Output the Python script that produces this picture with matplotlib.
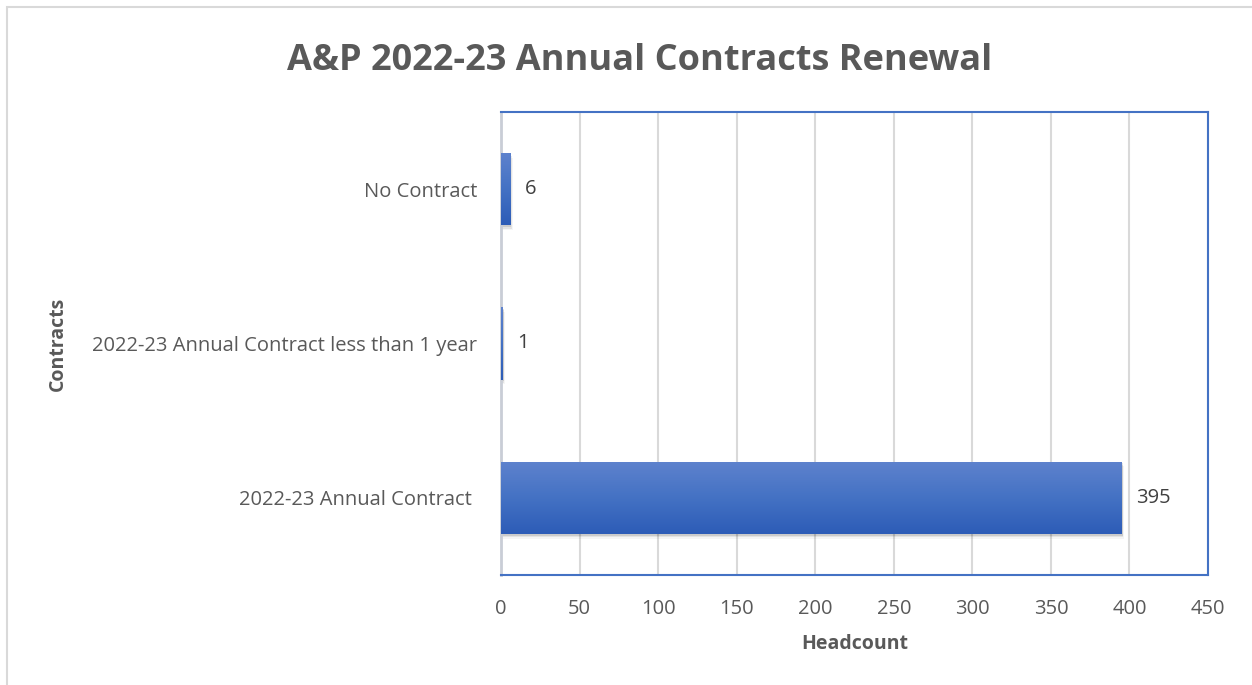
import numpy as np
import matplotlib.pyplot as plt
from matplotlib.patches import Rectangle

categories = ["2022-23 Annual Contract ", "2022-23 Annual Contract less than 1 year", "No Contract"]
headcount = [395, 1, 6]
x_ticks = [0, 50, 100, 150, 200, 250, 300, 350, 400, 450]

plt.rcParams['font.family'] = ['Open Sans', 'DejaVu Sans']
txt = '#595959'

fig = plt.figure(figsize=(12.52, 6.85), dpi=100)
# outer chart border
fig.patches.append(Rectangle((7 / 1252, -0.1), 1.2, (685 - 7) / 685 + 0.1,
                             transform=fig.transFigure, fill=False,
                             edgecolor='#d9d9d9', lw=1.5))
ax = fig.add_axes([501 / 1252, 110 / 685, 707 / 1252, 463 / 685])

y = np.arange(len(categories))
h = 0.47
bars = ax.barh(y, headcount, height=h, color='none', zorder=3)

# gradient fill + soft shadow
grad = np.linspace(0, 1, 100).reshape(-1, 1)
cmap = plt.matplotlib.colors.LinearSegmentedColormap.from_list('g', ['#5e82cd', '#4472c4', '#2d5cb7'])
for b in bars:
    x0, y0, w, hh = b.get_x(), b.get_y(), b.get_width(), b.get_height()
    for k, a in enumerate([0.10, 0.07, 0.04]):
        ax.add_patch(Rectangle((x0, y0 - 0.01 * (k + 1)), w + 0.6 * (k + 1), hh,
                               color='#000000', alpha=a, lw=0, zorder=2))
    im = ax.imshow(grad, cmap=cmap, aspect='auto', extent=(x0, x0 + w, y0, y0 + hh),
                   origin='upper', zorder=3)
    im.set_clip_path(b)

for yi, v in zip(y, headcount):
    ax.text(v + 9, yi, str(v), va='center', ha='left', fontsize=14.5, color='#404040', zorder=4)

ax.set_xlim(0, 450)
ax.set_ylim(-0.5, 2.5)
ax.set_xticks(x_ticks)
ax.set_yticks(y)
ax.set_yticklabels(categories)
ax.tick_params(axis='both', length=0, labelsize=14.5, labelcolor=txt)
ax.tick_params(axis='y', pad=17)
ax.tick_params(axis='x', pad=17)
ax.grid(axis='x', color='#d9d9d9', lw=1.5, zorder=0)
ax.set_axisbelow(True)
for s in ['top', 'right', 'bottom']:
    ax.spines[s].set_color('#4472c4')
    ax.spines[s].set_linewidth(1.5)
ax.spines['left'].set_color('#c9cdd6')
ax.spines['left'].set_linewidth(2)

ax.set_xlabel('Headcount', fontsize=14, fontweight='bold', color=txt, labelpad=11)
ax.set_ylabel('Contracts', fontsize=14, fontweight='bold', color=txt)
ax.yaxis.set_label_coords(-0.612, 0.5)

fig.text(640 / 1252, 1 - 61 / 685, 'A&P 2022-23 Annual Contracts Renewal', ha='center', va='center',
         fontsize=26, fontweight='bold', color=txt)

fig.savefig('out.png', dpi=100)
